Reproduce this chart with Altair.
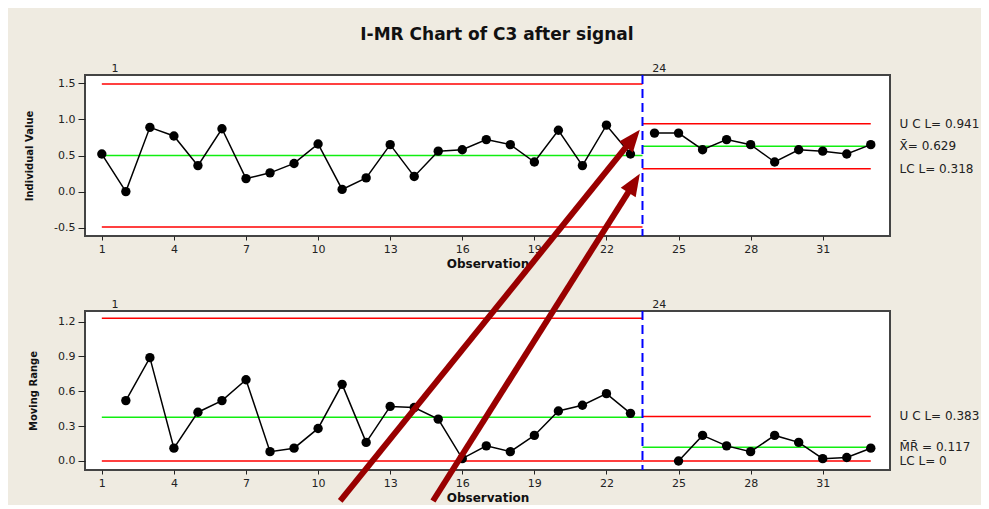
import altair as alt
import pandas as pd

# ---------------- data ----------------
observations = [1, 2, 3, 4, 5, 6, 7, 8, 9, 10, 11, 12, 13, 14, 15, 16, 17,
                18, 19, 20, 21, 22, 23, 24, 25, 26, 27, 28, 29, 30, 31, 32, 33]
stage_of_obs = ["1"] * 23 + ["24"] * 10
individual_values = [0.52, 0.00, 0.89, 0.77, 0.36, 0.87, 0.18, 0.26, 0.39, 0.66,
                     0.03, 0.19, 0.65, 0.21, 0.56, 0.58, 0.72, 0.65, 0.41, 0.85,
                     0.36, 0.92, 0.52, 0.81, 0.81, 0.58, 0.72, 0.65, 0.41, 0.58,
                     0.56, 0.52, 0.65]
moving_ranges = [None, 0.52, 0.89, 0.11, 0.42, 0.52, 0.70, 0.08, 0.11, 0.28,
                 0.66, 0.16, 0.47, 0.46, 0.36, 0.02, 0.13, 0.08, 0.22, 0.43,
                 0.48, 0.58, 0.41, None, 0.00, 0.22, 0.13, 0.08, 0.22, 0.16,
                 0.02, 0.03, 0.11]

stage_names = ["1", "24"]
stage_label_x = [1.55, 24.2]
stage_boundary = [23.5]
limit_from = [1, 23.5]
limit_to = [23.5, 33]

i_ucl = [1.49, 0.941]
i_cl = [0.50, 0.629]
i_lcl = [-0.49, 0.318]
mr_ucl = [1.23, 0.383]
mr_cl = [0.377, 0.117]
mr_lcl = [0.0, 0.0]

i_label_text = ["U C L= 0.941", "X\u0304= 0.629", "LC L= 0.318"]
i_label_y = [0.941, 0.629, 0.318]
mr_label_text = ["U C L= 0.383", "M\u0304R\u0304 = 0.117", "LC L= 0"]
mr_label_y = [0.383, 0.117, 0.0]
label_x = [34.2, 34.2, 34.2]

# annotation arrows (in the moving-range panel's data units)
arrow_x_start = [10.92, 14.78]
arrow_y_start = [-0.345, -0.345]
arrow_x_shaft_end = [23.13, 23.17]
arrow_y_shaft_end = [2.786, 2.401]
arrow_x_tip = [23.39, 23.39]
arrow_y_tip = [2.853, 2.474]
arrow_angle = [39, 32]

x_ticks = [1, 4, 7, 10, 13, 16, 19, 22, 25, 28, 31]
i_ticks = [-0.5, 0.0, 0.5, 1.0, 1.5]
mr_ticks = [0.0, 0.3, 0.6, 0.9, 1.2]

# ---------------- tables ----------------
pts = pd.DataFrame({"obs": observations, "stage": stage_of_obs,
                    "iv": individual_values, "mr": moving_ranges})
mr_pts = pts.dropna(subset=["mr"])


def limits_table(ucl, cl, lcl):
    rows = []
    for k in range(len(stage_names)):
        rows.append({"x": limit_from[k], "x2": limit_to[k], "y": ucl[k], "kind": "limit"})
        rows.append({"x": limit_from[k], "x2": limit_to[k], "y": lcl[k], "kind": "limit"})
        rows.append({"x": limit_from[k], "x2": limit_to[k], "y": cl[k], "kind": "center"})
    return pd.DataFrame(rows)


i_lim = limits_table(i_ucl, i_cl, i_lcl)
mr_lim = limits_table(mr_ucl, mr_cl, mr_lcl)
boundary = pd.DataFrame({"x": stage_boundary})
stage_lbl = pd.DataFrame({"x": stage_label_x, "t": stage_names})
i_lbl = pd.DataFrame({"x": label_x, "y": i_label_y, "t": i_label_text})
mr_lbl = pd.DataFrame({"x": label_x, "y": mr_label_y, "t": mr_label_text})
arrows = pd.DataFrame({"x": arrow_x_start, "y": arrow_y_start,
                       "x2": arrow_x_shaft_end, "y2": arrow_y_shaft_end,
                       "tx": arrow_x_tip, "ty": arrow_y_tip, "a": arrow_angle})

# ---------------- scales / axes ----------------
FONT = "DejaVu Sans"
xscale = alt.Scale(domain=[0.3, 33.8], nice=False, zero=False)
xaxis = alt.Axis(values=x_ticks, title="Observation", grid=False, domain=False,
                 tickSize=4, tickColor="#222", labelPadding=3, labelFontSize=11,
                 labelColor="#222", titleFontSize=12, titleFontWeight="bold",
                 titlePadding=4, titleColor="#111", labelFont=FONT, titleFont=FONT)


def yaxis(ticks, title):
    return alt.Axis(values=ticks, title=title, grid=False, domain=False,
                    tickSize=7, tickColor="#222", labelPadding=3, labelFontSize=11,
                    labelColor="#222", titleFontSize=10, titleFontWeight="bold",
                    titlePadding=19, titleColor="#111", labelFont=FONT, titleFont=FONT,
                    labelExpr="replace(format(datum.value, '.1f'), '\u2212', '-')")


def X(field):
    return alt.X(field, type="quantitative", scale=xscale, axis=xaxis)


def panel(data_pts, yfield, ydomain, ticks, ytitle, lim, lbl):
    ysc = alt.Scale(domain=ydomain, nice=False, zero=False)
    ax = yaxis(ticks, ytitle)

    def Y(field):
        return alt.Y(field, type="quantitative", scale=ysc, axis=ax)

    limit_layer = alt.Chart(lim).mark_rule(strokeWidth=1.5).encode(
        x=X("x"), x2="x2", y=Y("y"),
        color=alt.Color("kind:N", scale=alt.Scale(domain=["limit", "center"],
                                                  range=["#ff0000", "#10ee10"]),
                        legend=None))
    bnd = alt.Chart(boundary).mark_rule(color="#0000ff", strokeWidth=2,
                                        strokeDash=[9, 5]).encode(x=X("x"))
    line = alt.Chart(data_pts).mark_line(color="black", strokeWidth=1.5).encode(
        x=X("obs"), y=Y(yfield), detail="stage:N")
    dots = alt.Chart(data_pts).mark_circle(color="black", size=88, opacity=1).encode(
        x=X("obs"), y=Y(yfield))
    slbl = alt.Chart(stage_lbl).mark_text(fontSize=11, font=FONT, color="#222",
                                          baseline="bottom").encode(
        x=X("x"), y=alt.value(-1), text="t:N")
    rlbl = alt.Chart(lbl).mark_text(fontSize=12, font=FONT, color="#222",
                                    align="left", baseline="middle").encode(
        x=X("x"), y=Y("y"), text="t:N")
    return [limit_layer, bnd, line, dots, slbl, rlbl], Y


i_layers, _ = panel(pts, "iv", [-0.615, 1.615], i_ticks, "Individual Value", i_lim, i_lbl)
top = alt.layer(*i_layers).properties(width=805, height=161)

mr_layers, Ymr = panel(mr_pts, "mr", [-0.078, 1.292], mr_ticks, "Moving Range", mr_lim, mr_lbl)
shaft = alt.Chart(arrows).mark_rule(color="#990000", strokeWidth=6, clip=False,
                                    strokeCap="butt").encode(
    x=X("x"), y=Ymr("y"), x2="x2", y2="y2")
head = alt.Chart(arrows).mark_point(shape="M0,0 L0.8,2 L-0.8,2 Z", filled=True,
                                    size=484, color="#990000", opacity=1,
                                    clip=False).encode(
    x=X("tx"), y=Ymr("ty"), angle=alt.Angle("a:Q", scale=None))
bottom = alt.layer(*mr_layers, shaft, head).properties(width=805, height=159)

chart = alt.vconcat(top, bottom, spacing=75, bounds="flush").properties(
    title=alt.TitleParams("I-MR Chart of C3 after signal", fontSize=17,
                          fontWeight="bold", font=FONT, color="#111",
                          anchor="middle", offset=18, dx=-5),
    background="#efebe1",
    padding={"left": 15, "top": 18, "right": 0, "bottom": 0},
).configure_view(stroke="#444", strokeWidth=2, fill="white")

chart.save("out.html", embed_options={"renderer": "svg", "actions": False})
